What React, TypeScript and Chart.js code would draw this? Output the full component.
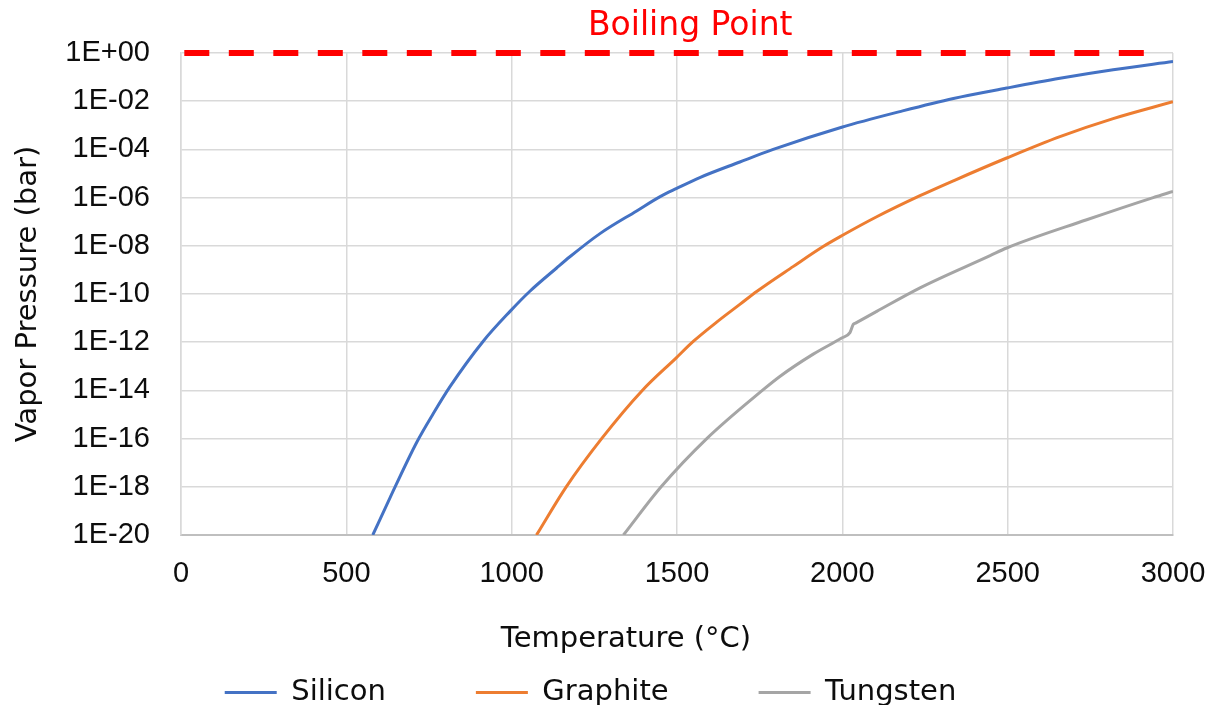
import React, { useEffect, useRef } from "react";
import { Chart, registerables } from "chart.js";

Chart.register(...registerables);

// ---- data (temperature in °C, vapor pressure in bar) ----
const siliconT = [580, 632, 713, 763, 813, 914, 995, 1055, 1136, 1176, 1267, 1378, 1449, 1499, 1569, 1690, 1791, 1998, 2174, 2336, 2497, 2658, 2819, 3000];
const siliconP = [1e-20, 3.5e-19, 7.1e-17, 1.1e-15, 1.4e-14, 1.1e-12, 1.9e-11, 1.3e-10, 1.2e-9, 3.5e-9, 3.2e-8, 2.8e-7, 1.1e-6, 2.4e-6, 6.8e-6, 3.0e-5, 1.0e-4, 8.3e-4, 3.7e-3, 1.3e-2, 3.5e-2, 8.9e-2, 0.2, 0.44];

const graphiteT = [1075, 1165, 1272, 1395, 1497, 1550, 1620, 1690, 1742, 1852, 1942, 1998, 2104, 2235, 2336, 2497, 2658, 2819, 3000];
const graphiteP = [1e-20, 1e-18, 1e-16, 1e-14, 2.2e-13, 1.1e-12, 6.8e-12, 3.7e-11, 1.3e-10, 1.4e-9, 9.3e-9, 2.6e-8, 1.6e-7, 1.2e-6, 5.0e-6, 4.4e-5, 3.4e-4, 1.9e-3, 9.5e-3];

const tungstenT = [1338, 1452, 1590, 1758, 1811, 1912, 1998, 2023, 2033, 2040, 2104, 2235, 2447, 2497, 2739, 2940, 3000];
const tungstenP = [1e-20, 1e-18, 1e-16, 1e-14, 3.8e-14, 3.2e-13, 1.5e-12, 2.5e-12, 5.5e-12, 6.2e-12, 1.9e-11, 1.8e-10, 3.9e-9, 8.1e-9, 1.2e-7, 1e-6, 1.8e-6];

const boilingT = [10, 2960];
const boilingP = [1, 1];
const boilingLabel = "Boiling Point";
const boilingLabelT = 1540;

const seriesNames = ["Silicon", "Graphite", "Tungsten"];
const seriesColors = ["#4472C4", "#ED7D31", "#A5A5A5"];

const xMin = 0;
const xMax = 3000;
const xStep = 500;
const yTickValues = [1e-20, 1e-18, 1e-16, 1e-14, 1e-12, 1e-10, 1e-8, 1e-6, 1e-4, 1e-2, 1];

const xTitle = "Temperature (°C)";
const yTitle = "Vapor Pressure (bar)";

const TEXT = "#0d0d0d";
const TITLE_FONT = "'DejaVu Sans', sans-serif";
const TICK_FONT = "'Liberation Sans', Arial, sans-serif";

const toPoints = (xs: number[], ys: number[]) => xs.map((x, i) => ({ x, y: ys[i] }));

const fmtExp = (v: number) => {
  const e = Math.round(Math.log10(v));
  const s = e < 0 ? "-" : "+";
  return "1E" + s + String(Math.abs(e)).padStart(2, "0");
};

const W = 1200;
const H = 697;

export default function App() {
  const ref = useRef<HTMLCanvasElement | null>(null);

  useEffect(() => {
    if (!ref.current) return;

    const layoutTweak = {
      id: "layoutTweak",
      afterLayout(chart: any) {
        if (chart.legend) {
          chart.legend.top += 12;
          chart.legend.bottom += 12;
        }
        // let the x tick labels render below the (compact) scale box
        if (chart.scales.x) chart.scales.x.bottom = chart.height;
      },
    };

    const textLabels = {
      id: "textLabels",
      afterDraw(chart: any) {
        const ctx = chart.ctx;
        const xs = chart.scales.x;
        const ys = chart.scales.y;
        ctx.save();
        // Boiling point label above the dashed line
        ctx.fillStyle = "#FF0000";
        ctx.font = `33px ${TITLE_FONT}`;
        ctx.textAlign = "center";
        ctx.textBaseline = "alphabetic";
        ctx.fillText(boilingLabel, xs.getPixelForValue(boilingLabelT), ys.getPixelForValue(boilingP[0]) - 18);
        // x axis title
        ctx.fillStyle = TEXT;
        ctx.font = `29px ${TITLE_FONT}`;
        ctx.textBaseline = "middle";
        ctx.fillText(xTitle, chart.width / 2 + 18, 631);
        ctx.restore();
      },
    };

    const lineDs = (i: number, t: number[], p: number[]) => ({
      label: seriesNames[i],
      data: toPoints(t, p),
      borderColor: seriesColors[i],
      backgroundColor: seriesColors[i],
      borderWidth: 3,
      pointRadius: 0,
      cubicInterpolationMode: "monotone",
    });

    const chart = new Chart(ref.current, {
      type: "line",
      data: {
        datasets: [
          lineDs(0, siliconT, siliconP),
          lineDs(1, graphiteT, graphiteP),
          lineDs(2, tungstenT, tungstenP),
          {
            label: boilingLabel,
            data: toPoints(boilingT, boilingP),
            borderColor: "#FF0000",
            backgroundColor: "#FF0000",
            borderWidth: 6,
            borderDash: [25, 19.5],
            borderCapStyle: "butt",
            pointRadius: 0,
            clip: false,
          },
        ],
      },
      options: {
        animation: false,
        responsive: false,
        layout: { padding: { top: 45, right: 35, left: 0, bottom: 0 } },
        plugins: {
          title: { display: false },
          tooltip: { enabled: false },
          legend: {
            position: "bottom",
            labels: {
              usePointStyle: true,
              pointStyle: "line",
              pointStyleWidth: 52,
              boxWidth: 52,
              padding: 90,
              color: TEXT,
              font: { family: TITLE_FONT, size: 29 },
              filter: (item: any) => item.text !== boilingLabel,
            },
          },
        },
        scales: {
          x: {
            type: "linear",
            min: xMin,
            max: xMax,
            ticks: {
              stepSize: xStep,
              color: TEXT,
              padding: 0,
              font: { family: TICK_FONT, size: 29 },
              maxRotation: 0,
              callback: (v: any) => String(v),
            },
            grid: {
              color: "#d9d9d9",
              lineWidth: 1.5,
              drawTicks: true,
              tickLength: 22,
              tickColor: "rgba(0,0,0,0)",
            },
            border: { color: "#bfbfbf", width: 2 },
            afterFit: (scale: any) => {
              scale.height = 41;
            },
          },
          y: {
            type: "logarithmic",
            min: yTickValues[0],
            max: yTickValues[yTickValues.length - 1],
            afterBuildTicks: (scale: any) => {
              scale.ticks = yTickValues.map((v) => ({ value: v }));
            },
            ticks: {
              color: TEXT,
              padding: 0,
              font: { family: TICK_FONT, size: 29 },
              callback: (v: any) => fmtExp(Number(v)),
            },
            grid: {
              color: "#d9d9d9",
              lineWidth: 1.5,
              drawTicks: true,
              tickLength: 31,
              tickColor: "rgba(0,0,0,0)",
            },
            border: { color: "#d9d9d9", width: 1.5 },
            title: {
              display: true,
              text: yTitle,
              color: TEXT,
              font: { family: TITLE_FONT, size: 29 },
              padding: { top: 3, bottom: 0 },
            },
            afterFit: (scale: any) => {
              scale.width = 173;
            },
          },
        },
      },
      plugins: [layoutTweak, textLabels],
    } as any);

    return () => chart.destroy();
  }, []);

  return (
    <div style={{ width: W, height: H }}>
      <canvas ref={ref} width={W} height={H} style={{ display: "block" }} />
    </div>
  );
}
